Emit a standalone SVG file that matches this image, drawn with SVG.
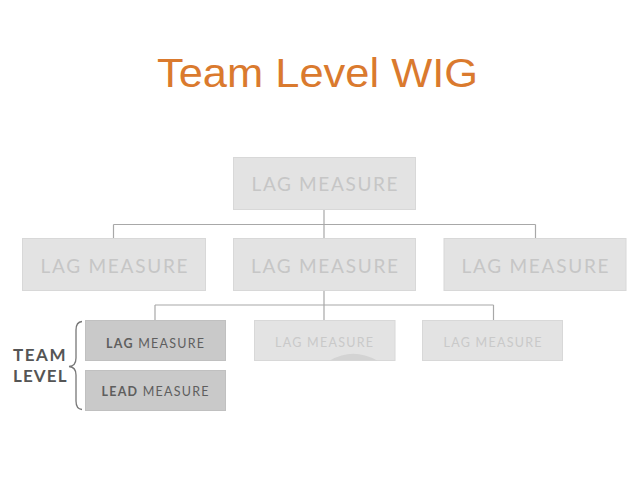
<svg xmlns="http://www.w3.org/2000/svg" width="638" height="479" viewBox="0 0 638 479">
<style>
.title{font-family:"Liberation Sans",Arial,sans-serif;font-size:41px;fill:#DA7A2E}
.lb{fill:#e3e3e3;stroke:#d8d8d8;stroke-width:1}
.lt{font-family:Lato,"Noto Sans",sans-serif;font-size:19px;fill:#c6c6c6;text-anchor:middle}
.st{font-family:Lato,"Noto Sans",sans-serif;font-size:12.5px;fill:#c9c9c9;text-anchor:middle}
.db{fill:#c9c9c9;stroke:#c0c0c0;stroke-width:1}
.dt{font-family:Lato,"Noto Sans",sans-serif;font-size:12.5px;fill:#5e5e5e;text-anchor:middle}
.tl{font-family:Lato,"Noto Sans",sans-serif;font-size:17px;font-weight:bold;fill:#555555}
.conn{stroke:#a8a8a8;stroke-width:1.2;fill:none}
</style>
<rect width="638" height="479" fill="#ffffff"/>
<text id="title" class="title" x="157" y="87" textLength="321" lengthAdjust="spacingAndGlyphs">Team Level WIG</text>
<g id="connectors">
<path class="conn" d="M324 209.5V238.5M113.5 224.5H535.5M113.5 224.5V238.5M535.5 224.5V238.5"/>
<path class="conn" d="M324 290.5V320M155 305H493.5M155 305V320M493.5 305V320"/>
</g>
<g id="top">
<rect class="lb" x="233.5" y="157.5" width="182" height="52"/>
<text class="lt" x="324.5" y="190.5" textLength="146" lengthAdjust="spacing">LAG MEASURE</text>
</g>
<g id="mid-left">
<rect class="lb" x="22.5" y="238.5" width="183" height="52"/>
<text class="lt" x="114" y="272.5" textLength="147" lengthAdjust="spacing">LAG MEASURE</text>
</g>
<g id="mid-center">
<rect class="lb" x="233.5" y="238.5" width="182" height="52"/>
<text class="lt" x="324.5" y="272.5" textLength="147" lengthAdjust="spacing">LAG MEASURE</text>
</g>
<g id="mid-right">
<rect class="lb" x="444" y="238.5" width="182" height="52"/>
<text class="lt" x="535" y="272.5" textLength="147" lengthAdjust="spacing">LAG MEASURE</text>
</g>
<g id="bottom-center">
<rect class="lb" x="254.5" y="320.5" width="140.5" height="40"/>
<path d="M330 360.5Q353 347 377 360.5Z" fill="#d3d3d3"/>
<text class="st" x="324" y="346.5" textLength="98" lengthAdjust="spacing">LAG MEASURE</text>
</g>
<g id="bottom-right">
<rect class="lb" x="422.5" y="320.5" width="140" height="40"/>
<text class="st" x="492.5" y="346.5" textLength="98" lengthAdjust="spacing">LAG MEASURE</text>
</g>
<g id="team-lag">
<rect class="db" x="85.5" y="320.5" width="140" height="40"/>
<text class="dt" x="155" y="347.5" textLength="98" lengthAdjust="spacing"><tspan font-weight="bold">LAG</tspan> MEASURE</text>
</g>
<g id="team-lead">
<rect class="db" x="85.5" y="370.5" width="140" height="40"/>
<text class="dt" x="155" y="396" textLength="107" lengthAdjust="spacing"><tspan font-weight="bold">LEAD</tspan> MEASURE</text>
</g>
<g id="team-level">
<text class="tl" x="13" y="360.5" textLength="52.5" lengthAdjust="spacing">TEAM</text>
<text class="tl" x="13" y="381.5" textLength="53.5" lengthAdjust="spacing">LEVEL</text>
<path d="M82 321.5Q76 322 76 330V358Q76 366 69 366.5Q76 367 76 375V401Q76 409 82 409.5" fill="none" stroke="#777777" stroke-width="1.3"/>
</g>
</svg>
